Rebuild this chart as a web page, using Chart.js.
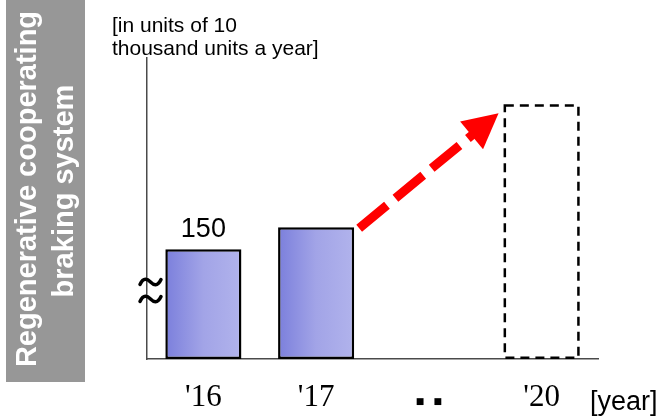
<!DOCTYPE html>
<html>
<head>
<meta charset="utf-8">
<script src="https://cdn.jsdelivr.net/npm/chart.js@4/dist/chart.umd.min.js"></script>
<style>
  html, body { margin: 0; padding: 0; background: #fff; }
  #wrap { width: 662px; height: 418px; }
</style>
</head>
<body>
<div id="wrap"><canvas id="c" width="662" height="418"></canvas></div>
<script>
// Regenerative cooperating braking system: annual output (10k units / year)
const years = ["'16", "'17", "\u25A0\u2003\u25A0", "'20"];
const units = [150, 160, null, 216];
const forecast = [false, false, false, true];
const valueLabels = ["150", "", "", ""];
const axisMin = 100;   // axis is broken below this value
const axisMax = 237;
const sideTitle = ["Regenerative cooperating", "braking system"];
const unitNote = ["[in units of 10", "thousand units a year]"];
const xUnit = "[year]";

const SANS = "'Liberation Sans', Arial, Helvetica, sans-serif";
const SERIF = "'Liberation Serif', 'Times New Roman', serif";
const BAR_PCT = 0.675;

// horizontal light-to-lighter blue fill for each solid bar
function barFill(c) {
  if (forecast[c.dataIndex]) return 'rgba(0,0,0,0)';
  const chart = c.chart;
  const xs = chart.scales && chart.scales.x;
  if (!xs || !chart.chartArea) return '#a2a4e7';
  const cx = xs.getPixelForValue(c.dataIndex);
  const w = xs.width / years.length * BAR_PCT;
  const g = chart.ctx.createLinearGradient(cx - w / 2, 0, cx + w / 2, 0);
  g.addColorStop(0, '#7b7fdc');
  g.addColorStop(0.5, '#a2a4e7');
  g.addColorStop(1, '#b1b3ec');
  return g;
}

const decor = {
  id: 'decor',
  beforeDraw(chart) {
    const ctx = chart.ctx;
    ctx.save();
    ctx.fillStyle = '#fff';
    ctx.fillRect(0, 0, chart.width, chart.height);

    // grey side banner with rotated title
    ctx.fillStyle = '#979797';
    ctx.fillRect(6, 0, 79, 382);
    ctx.fillStyle = '#fff';
    ctx.font = 'bold 29px ' + SANS;
    ctx.textAlign = 'center';
    ctx.textBaseline = 'alphabetic';
    const lines = [[36, 189], [73, 191]];
    sideTitle.forEach((t, i) => {
      ctx.save();
      ctx.translate(lines[i][0], lines[i][1]);
      ctx.rotate(-Math.PI / 2);
      ctx.fillText(t, 0, 0);
      ctx.restore();
    });

    // unit note above the value axis
    ctx.fillStyle = '#000';
    ctx.font = '21px ' + SANS;
    ctx.textAlign = 'left';
    ctx.fillText(unitNote[0], 112, 32);
    ctx.fillText(unitNote[1], 112, 55);
    ctx.restore();
  },
  afterDatasetsDraw(chart) {
    const ctx = chart.ctx;
    const area = chart.chartArea;
    const bars = chart.getDatasetMeta(0).data;
    ctx.save();

    // dashed outline for the forecast bar
    bars.forEach((el, i) => {
      if (!forecast[i] || units[i] == null) return;
      const x0 = el.x - el.width / 2;
      const base = Math.min(el.base, area.bottom);
      ctx.strokeStyle = '#000';
      ctx.lineWidth = 2.5;
      ctx.setLineDash([9, 6]);
      ctx.strokeRect(x0 + 1.25, el.y + 1.25, el.width - 2.5, base - el.y - 2.5);
      ctx.setLineDash([]);
    });

    // value labels
    ctx.fillStyle = '#000';
    ctx.font = '27px ' + SANS;
    ctx.textAlign = 'center';
    ctx.textBaseline = 'alphabetic';
    bars.forEach((el, i) => {
      if (valueLabels[i]) ctx.fillText(valueLabels[i], el.x, el.y - 12);
    });

    // growth arrow from '17 to the '20 forecast
    const a = bars[1], b = bars[3];
    const sx = a.x + a.width / 2 + 5, sy = a.y + 1;
    const tx = b.x - b.width / 2 - 5, ty = b.y + 9;
    const dx = tx - sx, dy = ty - sy, len = Math.hypot(dx, dy);
    const ux = dx / len, uy = dy / len;
    const headLen = 35, headHalf = 18;
    ctx.strokeStyle = '#ff0000';
    ctx.fillStyle = '#ff0000';
    ctx.lineWidth = 9;
    ctx.lineCap = 'butt';
    ctx.setLineDash([36, 11]);
    ctx.beginPath();
    ctx.moveTo(sx, sy);
    ctx.lineTo(tx - ux * (headLen - 4), ty - uy * (headLen - 4));
    ctx.stroke();
    ctx.setLineDash([]);
    const bx = tx - ux * headLen, by = ty - uy * headLen;
    ctx.beginPath();
    ctx.moveTo(tx, ty);
    ctx.lineTo(bx - uy * headHalf, by + ux * headHalf);
    ctx.lineTo(bx + uy * headHalf, by - ux * headHalf);
    ctx.closePath();
    ctx.fill();

    // axis break mark
    ctx.strokeStyle = '#000';
    ctx.lineWidth = 3.5;
    ctx.lineCap = 'round';
    const cx = area.left + 3.5;
    [area.bottom - 77, area.bottom - 60].forEach(cy => {
      ctx.beginPath();
      ctx.moveTo(cx - 10.5, cy + 2.5);
      ctx.bezierCurveTo(cx - 7, cy - 5, cx - 3, cy - 3, cx, cy);
      ctx.bezierCurveTo(cx + 3, cy + 3, cx + 7, cy + 5, cx + 10.5, cy - 2.5);
      ctx.stroke();
    });

    // unit of the category axis
    ctx.fillStyle = '#000';
    ctx.font = '27px ' + SANS;
    ctx.textAlign = 'left';
    ctx.fillText(xUnit, 590, 410);
    ctx.restore();
  }
};

new Chart(document.getElementById('c'), {
  type: 'bar',
  data: {
    labels: years,
    datasets: [{
      data: units,
      base: axisMin,
      backgroundColor: barFill,
      borderColor: '#000',
      borderWidth: (c) => forecast[c.dataIndex] ? 0 : 2.5,
      borderSkipped: false,
      barPercentage: BAR_PCT,
      categoryPercentage: 1
    }]
  },
  options: {
    responsive: false,
    devicePixelRatio: 1,
    animation: false,
    layout: { padding: { left: 147, right: 64, top: 58, bottom: 0 } },
    plugins: { legend: { display: false }, tooltip: { enabled: false } },
    scales: {
      x: {
        offset: true,
        grid: { display: false, drawTicks: false },
        border: { display: true, color: '#4a4a4a', width: 1.5 },
        ticks: {
          color: '#000',
          padding: 20,
          maxRotation: 0,
          autoSkip: false,
          font: (c) => c.index === 2
            ? { family: "'DejaVu Sans', sans-serif", size: 9, lineHeight: 5 }
            : { family: SERIF, size: 31, lineHeight: 1.2 }
        },
        afterFit: (s) => { s.height = 59; }
      },
      y: {
        min: axisMin,
        max: axisMax,
        grid: { display: false, drawTicks: false },
        border: { display: true, color: '#4a4a4a', width: 1.5 },
        ticks: { display: false },
        afterFit: (s) => { s.width = 0; }
      }
    }
  },
  plugins: [decor]
});
</script>
</body>
</html>
